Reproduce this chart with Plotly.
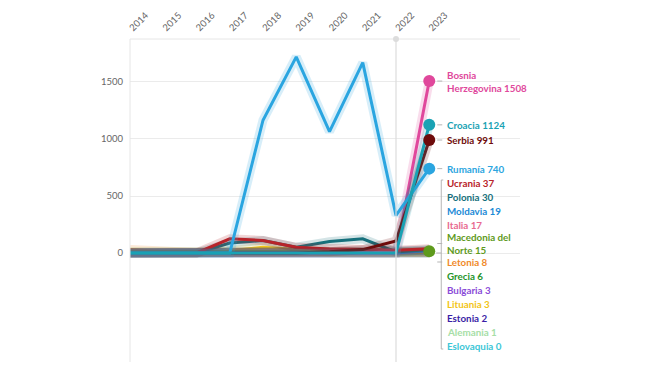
import plotly.graph_objects as go

years = [2014, 2015, 2016, 2017, 2018, 2019, 2020, 2021, 2022, 2023]

countries = ["Bosnia Herzegovina", "Croacia", "Serbia", "Rumanía", "Ucrania", "Polonia",
             "Moldavia", "Italia", "Macedonia del Norte", "Letonia", "Grecia", "Bulgaria",
             "Lituania", "Estonia", "Alemania", "Eslovaquia"]
label_lines = ["Bosnia<br>Herzegovina", "Croacia", "Serbia", "Rumanía", "Ucrania", "Polonia",
               "Moldavia", "Italia", "Macedonia del<br>Norte", "Letonia", "Grecia", "Bulgaria",
               "Lituania", "Estonia", "Alemania", "Eslovaquia"]

bosnia = [0, 0, 0, 0, 0, 0, 0, 0, 0, 1508]
croacia = [0, 0, 0, 0, 0, 0, 0, 0, 0, 1124]
serbia = [0, 0, 0, 0, 0, 0, 10, 30, 105, 991]
rumania = [0, 0, 0, 0, 1165, 1720, 1065, 1670, 330, 740]
ucrania = [0, 0, 0, 125, 110, 50, 35, 30, 25, 37]
polonia = [0, 0, 0, 88, 110, 50, 100, 125, 10, 30]
moldavia = [0, 0, 0, 0, 0, 0, 0, 0, 0, 19]
italia = [5, 5, 5, 10, 10, 5, 5, 5, 5, 17]
macedonia = [10, 10, 10, 10, 12, 12, 12, 12, 15, 15]
letonia = [30, 10, 5, 5, 5, 5, 5, 5, 5, 8]
grecia = [5, 5, 5, 5, 5, 5, 5, 5, 5, 6]
bulgaria = [3, 3, 3, 3, 3, 3, 3, 3, 3, 3]
lituania = [0, 0, 0, 20, 50, 30, 5, 3, 3, 3]
estonia = [2, 2, 2, 2, 2, 2, 2, 2, 2, 2]
alemania = [1, 1, 1, 1, 1, 1, 1, 1, 1, 1]
eslovaquia = [0, 0, 0, 0, 0, 0, 0, 0, 0, 0]

series = [bosnia, croacia, serbia, rumania, ucrania, polonia, moldavia, italia, macedonia,
          letonia, grecia, bulgaria, lituania, estonia, alemania, eslovaquia]
colors = ["#e0489c", "#19a2b4", "#6e0b0b", "#2aa5e0", "#b8232a", "#16707c", "#1c8ad6",
          "#e86a90", "#5e9a1c", "#f08a2a", "#24942a", "#8a4cd8", "#f2c416", "#3a1ea6",
          "#a6dea6", "#3cc6d6"]
dotted = ["Bosnia Herzegovina", "Croacia", "Serbia", "Rumanía", "Macedonia del Norte"]
y_ticks = [0, 500, 1000, 1500]

# layout geometry (page body has an 8px margin)
W, H = 642, 358
ML, MR, MT, MB = 122, 130, 31, 4
X0 = 2014
PX_PER_YEAR = 33.25
Y_RANGE = [-956, 1877]
LABEL_BOTTOM_PX = 338
plot_w = W - ML - MR
plot_h = H - MT - MB
x_range = [X0, X0 + plot_w / PX_PER_YEAR]


def ypx(v):
    return MT + (Y_RANGE[1] - v) / (Y_RANGE[1] - Y_RANGE[0]) * plot_h


def xpx(v):
    return ML + (v - x_range[0]) / (x_range[1] - x_range[0]) * plot_w


def xpaper(px):
    return (px - ML) / plot_w


def ypaper(px):
    return 1 - (px - MT) / plot_h


fig = go.Figure()

draw_order = list(range(len(countries)))[::-1]
draw_order = [i for i in draw_order if i not in (0, 2, 3, 1)] + [0, 2, 3, 1]
for i in draw_order:
    fig.add_trace(go.Scatter(x=years, y=series[i], mode="lines",
                             line=dict(color=colors[i], width=9), opacity=0.18,
                             hoverinfo="skip", showlegend=False))
    fig.add_trace(go.Scatter(x=years, y=series[i], mode="lines", name=countries[i],
                             line=dict(color=colors[i], width=3), showlegend=False))

for i, c in enumerate(countries):
    if c in dotted:
        fig.add_trace(go.Scatter(x=[years[-1]], y=[series[i][-1]], mode="markers",
                                 marker=dict(color=colors[i], size=12),
                                 showlegend=False, hoverinfo="skip"))

# label layout: avoid overlap, keep within bottom limit
order = sorted(range(len(countries)), key=lambda i: -series[i][-1])
hts = {i: (23 if "<br>" in label_lines[i] else 14) for i in order}
pos = {}
for k, i in enumerate(order):
    desired = ypx(series[i][-1])
    if k == 0:
        pos[i] = desired
    else:
        p = order[k - 1]
        pos[i] = max(desired, pos[p] + (hts[p] + hts[i]) / 2)
last = order[-1]
pos[last] = min(pos[last], LABEL_BOTTOM_PX)
for k in range(len(order) - 2, -1, -1):
    i, n = order[k], order[k + 1]
    pos[i] = min(pos[i], pos[n] - (hts[i] + hts[n]) / 2)

LABEL_DX = 16
lab_x = xpx(years[-1]) + LABEL_DX
for i in order:
    fig.add_annotation(x=years[-1], y=series[i][-1], yref="y", xref="x",
                       text=f"<b>{label_lines[i]} {series[i][-1]}</b>",
                       xanchor="left", yanchor="middle", align="left",
                       xshift=LABEL_DX, yshift=-(pos[i] - ypx(series[i][-1])),
                       showarrow=False,
                       font=dict(family="Lato", size=9.8, color=colors[i]))

shapes = []
shapes.append(dict(type="line", xref="paper", yref="paper", x0=0, x1=1, y0=1, y1=1,
                   line=dict(color="#e6e6e6", width=1)))
shapes.append(dict(type="line", xref="paper", yref="paper", x0=0, x1=0, y0=0, y1=1,
                   line=dict(color="#e6e6e6", width=1)))
shapes.append(dict(type="line", xref="x", yref="paper", x0=2022, x1=2022, y0=0, y1=1,
                   line=dict(color="#dcdcdc", width=1.2)))
shapes.append(dict(type="circle", xref="x", yref="paper", xsizemode="pixel", ysizemode="pixel",
                   xanchor=2022, yanchor=1, x0=-3, x1=3, y0=-3, y1=3,
                   fillcolor="#dcdcdc", line=dict(width=0)))

grey = "#b5b5b5"
small = [i for i in order if abs(pos[i] - ypx(series[i][-1])) > 20]
big = [i for i in order if i not in small]
for i in big:
    shapes.append(dict(type="line", xref="paper", yref="paper",
                       x0=xpaper(lab_x - 8), x1=xpaper(lab_x - 3),
                       y0=ypaper(pos[i]), y1=ypaper(pos[i]), line=dict(color=grey, width=1)))
if small:
    bx = lab_x - 4
    top, bot = pos[small[0]], pos[small[-1]]
    shapes.append(dict(type="line", xref="paper", yref="paper", x0=xpaper(bx), x1=xpaper(bx),
                       y0=ypaper(top - 3), y1=ypaper(bot + 3), line=dict(color=grey, width=1)))
    for yy in (top - 3, bot + 3):
        shapes.append(dict(type="line", xref="paper", yref="paper", x0=xpaper(bx), x1=xpaper(bx + 2),
                           y0=ypaper(yy), y1=ypaper(yy), line=dict(color=grey, width=1)))
    shapes.append(dict(type="line", xref="paper", yref="paper", x0=xpaper(bx - 5), x1=xpaper(bx),
                       y0=ypaper(ypx(0)), y1=ypaper(ypx(0)), line=dict(color=grey, width=1)))

fig.update_layout(
    width=W, height=H,
    margin=dict(l=ML, r=MR, t=MT, b=MB, autoexpand=False),
    paper_bgcolor="white", plot_bgcolor="white",
    showlegend=False,
    shapes=shapes,
    xaxis=dict(range=x_range, side="top", tickvals=years, ticktext=[str(y) for y in years],
               tickangle=-45, showgrid=False, zeroline=False, showline=False, ticks="",
               automargin=False, ticklabelstandoff=3,
               tickfont=dict(family="Lato", size=9.5, color="#666666")),
    yaxis=dict(range=Y_RANGE, tickvals=y_ticks, ticktext=[str(v) for v in y_ticks],
               showgrid=True, gridcolor="#ebebeb", gridwidth=1, zeroline=False,
               showline=False, ticks="", ticklabelstandoff=6, automargin=False,
               tickfont=dict(family="Lato", size=9.5, color="#666666")),
)

fig.write_html("out.html")
